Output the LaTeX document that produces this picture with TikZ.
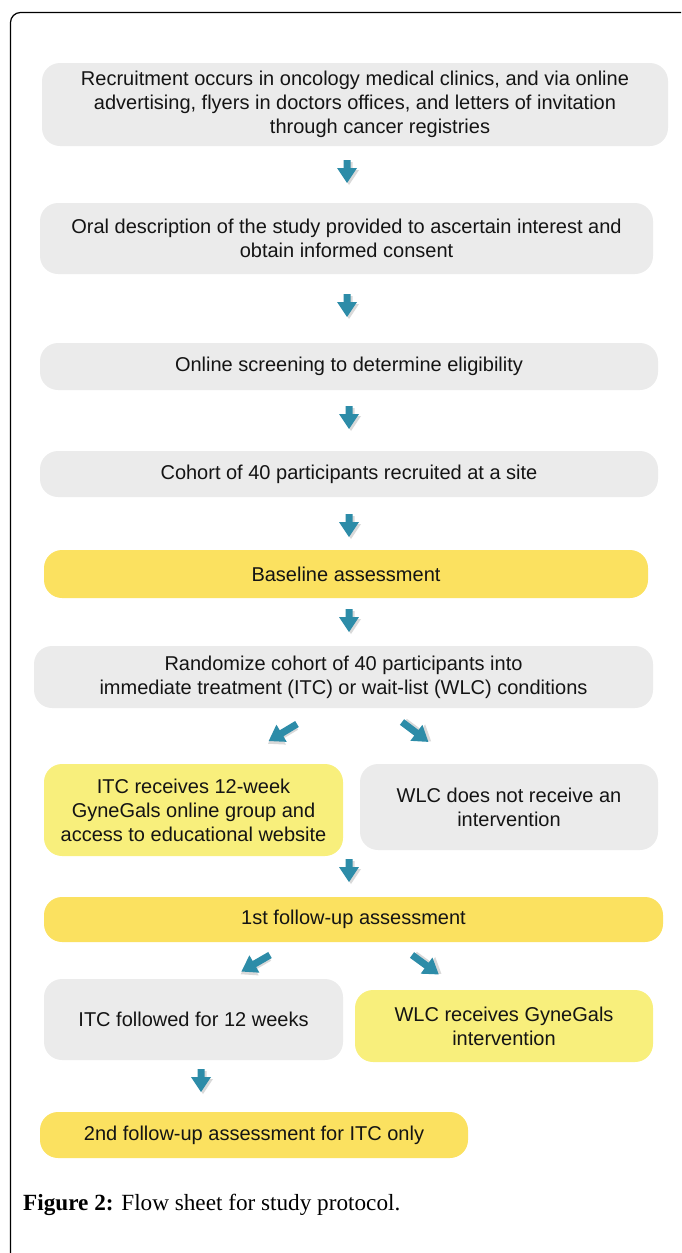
\documentclass[tikz,border=0pt]{standalone}
\usepackage{fontspec}
\setmainfont{Liberation Sans}
\newfontfamily\capfont{Liberation Serif}
\definecolor{boxgray}{HTML}{EBEBEB}
\definecolor{boxgold}{HTML}{FBE160}
\definecolor{boxlemon}{HTML}{F8EF7C}
\definecolor{arrowteal}{HTML}{2D8CA8}
\definecolor{textdark}{HTML}{141414}
\begin{document}
\begin{tikzpicture}[x=1pt,y=-1pt,
  box/.style={rounded corners=18pt, inner sep=0pt, align=center,
    font=\fontsize{20}{24}\selectfont, text=textdark},
  gbox/.style={box, fill=boxgray},
  ybox/.style={box, fill=boxgold},
  lbox/.style={box, fill=boxlemon},
  pics/barrow/.style={code={
    \fill[black, opacity=0.15] (-1.5,2) -- (5.5,2) -- (5.5,#1-13) -- (12,#1-13) -- (2,#1+2) -- (-8,#1-13) -- (-1.5,#1-13) -- cycle;
    \fill[arrowteal] (-3.5,0) -- (3.5,0) -- (3.5,#1-15) -- (10,#1-15) -- (0,#1) -- (-10,#1-15) -- (-3.5,#1-15) -- cycle;
  }},
  pics/barrow/.default=23,
]
\useasboundingbox (0,0) rectangle (681,1253);
% frame
\draw[line width=1.2pt, rounded corners=10pt] (10.5,1253) -- (10.5,12.5) -- (681,12.5);

% boxes
\node[gbox, minimum width=626pt, minimum height=83pt] (recruit) at (355,104.5)
  {Recruitment occurs in oncology medical clinics, and via online\\
   advertising, flyers in doctors offices, and letters of invitation\\
   \hspace*{50pt}through cancer registries};
\node[gbox, minimum width=613pt, minimum height=71pt] (consent) at (346.5,238.5)
  {Oral description of the study provided to ascertain interest and\\
   obtain informed consent};
\node[gbox, minimum width=618pt, minimum height=47pt] (screen) at (349,366.5)
  {Online screening to determine eligibility};
\node[gbox, minimum width=618pt, minimum height=46pt] (cohort) at (349,474)
  {Cohort of 40 participants recruited at a site};
\node[ybox, minimum width=604pt, minimum height=48pt] (baseline) at (346,574)
  {Baseline assessment};
\node[gbox, minimum width=619pt, minimum height=62pt] (random) at (343.5,677)
  {Randomize cohort of 40 participants into\\
   immediate treatment (ITC) or wait-list (WLC) conditions};
\node[lbox, minimum width=299pt, minimum height=92pt] (itc) at (193.5,810)
  {ITC receives 12-week\\ GyneGals online group and\\ access to educational website};
\node[gbox, minimum width=298pt, minimum height=86pt] (wlc) at (509,807)
  {WLC does not receive an\\ intervention};
\node[ybox, minimum width=619pt, minimum height=45pt] (follow1) at (353.5,919.5)
  {1st follow-up assessment};
\node[gbox, minimum width=299pt, minimum height=81pt] (itcf) at (193.5,1019.5)
  {ITC followed for 12 weeks};
\node[lbox, minimum width=298pt, minimum height=72pt] (wlcg) at (504,1026)
  {WLC receives GyneGals\\ intervention};
\node[ybox, minimum width=428pt, minimum height=46pt] (follow2) at (254,1135)
  {2nd follow-up assessment for ITC only};

% block arrows
\pic at (347,160) {barrow};
\pic at (347,294) {barrow};
\pic at (349,406) {barrow};
\pic at (349,514) {barrow};
\pic at (349,609) {barrow};
\pic[rotate=-59] at (297,724) {barrow=33};
\pic[rotate=53] at (402,722) {barrow=33};
\pic at (349,859) {barrow};
\pic[rotate=-60] at (270,955) {barrow=33};
\pic[rotate=54] at (412,955) {barrow=33};
\pic at (201,1069) {barrow};

% caption
\node[anchor=base west, inner sep=0pt, font=\capfont\fontsize{23.2}{26}\selectfont] (caption) at (23,1210)
  {\textbf{Figure 2:} Flow sheet for study protocol.};
\end{tikzpicture}
\end{document}
